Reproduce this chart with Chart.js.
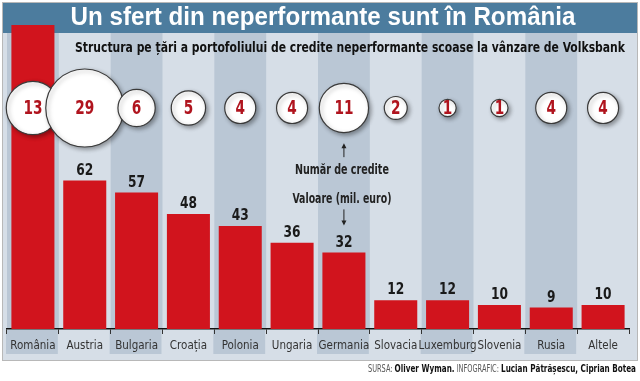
<!DOCTYPE html>
<html><head><meta charset="utf-8">
<script src="https://cdn.jsdelivr.net/npm/chart.js@4"></script>
<style>html,body{margin:0;padding:0;background:#fff}#wrap{width:640px;height:381px;position:relative}</style>
</head><body><div id="wrap"><canvas id="c" width="640" height="381"></canvas></div>
<script>
// ---- data ----
const countries = ['România','Austria','Bulgaria','Croația','Polonia','Ungaria','Germania','Slovacia','Luxemburg','Slovenia','Rusia','Altele'];
const values = [127, 62, 57, 48, 43, 36, 32, 12, 12, 10, 9, 10];   // Valoare (mil. euro)
const counts = [13, 29, 6, 5, 4, 4, 11, 2, 1, 1, 4, 4];             // Număr de credite
const titleText = 'Un sfert din neperformante sunt în România';
const subtitleText = 'Structura pe țări a portofoliului de credite neperformante scoase la vânzare de Volksbank';
const noteCount = 'Număr de credite';
const noteValue = 'Valoare (mil. euro)';
const sourceParts = [['SURSA: ', false], ['Oliver Wyman.', true], [' INFOGRAFIC: ', false], ['Lucian Pătrășescu, Ciprian Botea', true]];

// ---- style ----
const NARROW = "'Liberation Sans Narrow','DejaVu Sans Condensed','Roboto Condensed','Liberation Sans',sans-serif";
const RED = '#d1141d';
const LIGHT = '#d6dee7';
const DARK = '#bac7d5';
const BANNER = '#4c7c9e';
const NUM_RED = '#b0141e';
const Y_MAX = 127;
const BUBBLE_ROW = 0.727;

function fitText(ctx, text, cx, cy, font, target) {
  ctx.save();
  ctx.font = font;
  const w = ctx.measureText(text).width;
  const s = Math.min(1.15, target / w);
  ctx.translate(cx, cy);
  ctx.scale(s, 1);
  ctx.textAlign = 'center';
  ctx.textBaseline = 'middle';
  ctx.fillText(text, 0, 0);
  ctx.restore();
}
function squeezeText(ctx, text, cx, cy, font, sx) {
  ctx.save();
  ctx.font = font;
  ctx.translate(cx, cy);
  ctx.scale(sx, 1);
  ctx.textAlign = 'center';
  ctx.textBaseline = 'middle';
  ctx.fillText(text, 0, 0);
  ctx.restore();
}

const deco = {
  id: 'deco',
  beforeDraw(chart) {
    const { ctx, chartArea: a, scales: { x } } = chart;
    const w = (a.right - a.left) / countries.length;
    ctx.save();
    ctx.fillStyle = '#fff';
    ctx.fillRect(0, 0, chart.width, chart.height);
    ctx.fillStyle = LIGHT;
    ctx.fillRect(3, 3, 634, 357);
    countries.forEach((c, i) => {
      if (i % 2 === 0) {
        const cx = x.getPixelForValue(i);
        ctx.fillStyle = DARK;
        ctx.fillRect(cx - w / 2, 33, w, a.bottom - 33);
        ctx.fillRect(cx - w / 2 - 1, a.bottom + 1, w, 24);
      }
    });
    ctx.fillStyle = BANNER;
    ctx.fillRect(3, 3, 634, 30);
    ctx.strokeStyle = '#b8b8b8';
    ctx.lineWidth = 1;
    ctx.strokeRect(2.5, 2.5, 635, 358);
    ctx.restore();
  },
  beforeDatasetDraw(chart, args) {
    if (chart.data.datasets[args.index].type === 'bubble') {
      const ctx = chart.ctx;
      ctx.save();
      ctx.shadowColor = 'rgba(0,0,0,0.35)';
      ctx.shadowBlur = 4;
      ctx.shadowOffsetX = 2;
      ctx.shadowOffsetY = 2;
    }
  },
  afterDatasetDraw(chart, args) {
    if (chart.data.datasets[args.index].type === 'bubble') chart.ctx.restore();
  },
  afterDatasetsDraw(chart) {
    const { ctx, chartArea: a } = chart;
    const barMeta = chart.getDatasetMeta(1);
    const bubMeta = chart.getDatasetMeta(0);
    ctx.save();
    // bar value labels
    ctx.fillStyle = '#1a1a1a';
    barMeta.data.forEach((el, i) => {
      const ly = el.y - 10;
      if (ly > a.top + 20) squeezeText(ctx, String(values[i]), el.x, ly, 'bold 16px ' + NARROW, 0.85);
    });
    // bubble numbers
    ctx.fillStyle = NUM_RED;
    bubMeta.data.forEach((el, i) => {
      squeezeText(ctx, String(counts[i]), el.x, el.y + 1, 'bold 19px ' + NARROW, 0.8);
    });
    // notes near Germania
    const gi = 6;
    const b = bubMeta.data[gi];
    const bar = barMeta.data[gi];
    const gx = b.x;
    const r = b.options.radius;
    ctx.strokeStyle = '#222';
    ctx.fillStyle = '#222';
    ctx.lineWidth = 1;
    const tip1 = b.y + r + 10.5, tail1 = tip1 + 14;
    ctx.beginPath(); ctx.moveTo(gx, tail1); ctx.lineTo(gx, tip1 + 2); ctx.stroke();
    ctx.beginPath(); ctx.moveTo(gx, tip1); ctx.lineTo(gx - 2.5, tip1 + 5); ctx.lineTo(gx + 2.5, tip1 + 5); ctx.closePath(); ctx.fill();
    fitText(ctx, noteCount, gx - 2, tail1 + 13, 'bold 14px ' + NARROW, 94);
    const labY = bar.y - 10;
    const tip2 = labY - 17, tail2 = tip2 - 16;
    fitText(ctx, noteValue, gx - 2, tail2 - 10, 'bold 14px ' + NARROW, 99);
    ctx.beginPath(); ctx.moveTo(gx, tail2); ctx.lineTo(gx, tip2 - 2); ctx.stroke();
    ctx.beginPath(); ctx.moveTo(gx, tip2); ctx.lineTo(gx - 2.5, tip2 - 5); ctx.lineTo(gx + 2.5, tip2 - 5); ctx.closePath(); ctx.fill();
    // title & subtitle
    ctx.fillStyle = '#fff';
    fitText(ctx, titleText, 323, 18, 'bold 25px ' + "'Liberation Sans',Arial,sans-serif", 505);
    ctx.fillStyle = '#111';
    fitText(ctx, subtitleText, 350, 48, 'bold 14px ' + NARROW, 550);
    // source line (right aligned, squeezed to fit)
    const fonts = sourceParts.map(([t, bold]) => (bold ? 'bold 11px ' : '10px ') + NARROW);
    let total = 0;
    const widths = sourceParts.map(([t], k) => { ctx.font = fonts[k]; const w = ctx.measureText(t).width; total += w; return w; });
    const sx = 268 / total;
    ctx.translate(636, 369);
    ctx.scale(sx, 1);
    ctx.textAlign = 'left';
    ctx.textBaseline = 'middle';
    let xx = -total;
    sourceParts.forEach(([t, bold], k) => {
      ctx.font = fonts[k];
      ctx.fillStyle = bold ? '#111' : '#555';
      ctx.fillText(t, xx, 0);
      xx += widths[k];
    });
    ctx.restore();
  }
};

new Chart(document.getElementById('c'), {
  data: {
    labels: countries,
    datasets: [
      {
        type: 'bubble',
        label: noteCount,
        data: counts.map((c, i) => ({ x: i, y: BUBBLE_ROW })),
        yAxisID: 'yb',
        backgroundColor: '#ffffff',
        borderColor: '#3a3a3a',
        borderWidth: 1.2,
        radius: (c) => 1.67 + 6.93 * Math.sqrt(counts[c.dataIndex]),
        clip: false,
        order: 1
      },
      {
        type: 'bar',
        label: noteValue,
        data: values,
        yAxisID: 'y',
        backgroundColor: RED,
        borderWidth: 0,
        barPercentage: 0.83,
        categoryPercentage: 1,
        order: 2
      }
    ]
  },
  options: {
    responsive: false,
    animation: false,
    layout: { autoPadding: false, padding: { top: 25, left: 7, right: 11, bottom: 0 } },
    plugins: { legend: { display: false }, tooltip: { enabled: false } },
    scales: {
      x: {
        type: 'category',
        offset: true,
        grid: { display: true, drawOnChartArea: false, offset: true, tickLength: 5, color: '#333', lineWidth: 1 },
        border: { display: true, color: '#111', width: 1.5 },
        ticks: { color: '#333', font: { family: NARROW, size: 11.5 }, padding: 5, maxRotation: 0, autoSkip: false },
        afterFit: (s) => { s.height = 52; }
      },
      y: { display: false, min: 0, max: Y_MAX },
      yb: { display: false, min: 0, max: 1 }
    }
  },
  plugins: [deco]
});
</script>
</body></html>
